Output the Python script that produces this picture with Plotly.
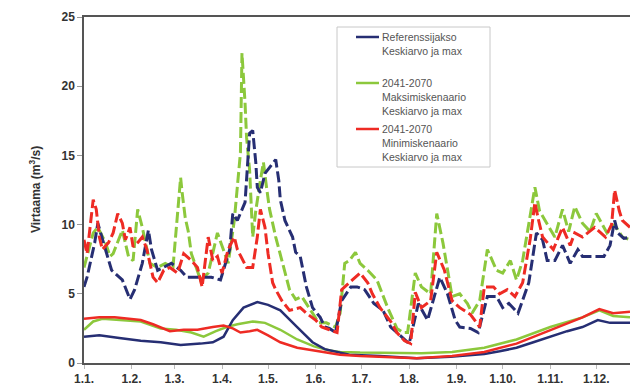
import plotly.graph_objects as go

# ---------------- data (day of year from 1.1.) ----------------
month_days = [0, 31, 59, 90, 120, 151, 181, 212, 243, 273, 304, 334]
month_labels = ["1.1.", "1.2.", "1.3.", "1.4.", "1.5.", "1.6.", "1.7.", "1.8.", "1.9.", "1.10.", "1.11.", "1.12."]

# Referenssijakso, mean
ref_mean_days = [0, 10, 23, 37, 50, 63, 76, 84, 91, 97, 104, 113, 120, 128, 139, 149, 157, 165, 173, 193,
                 217, 239, 261, 271, 282, 293, 304, 315, 325, 335, 343, 356]
ref_mean = [1.9, 2.0, 1.8, 1.6, 1.5, 1.3, 1.4, 1.5, 1.9, 3.1, 4.0, 4.4, 4.2, 3.8, 2.6, 1.5, 1.0, 0.8, 0.6, 0.5,
            0.35, 0.45, 0.65, 0.85, 1.1, 1.5, 1.9, 2.3, 2.6, 3.1, 2.9, 2.9]

# Referenssijakso, max
ref_max_days = [0, 2, 7, 9, 14, 18, 25, 30, 33, 38, 42, 44, 48, 52, 57, 63, 67, 74, 83, 89, 95, 97, 100, 105,
                108, 110, 112, 113, 115, 118, 125, 127, 128, 131, 136, 138, 141, 145, 149, 154, 157, 160, 164,
                168, 174, 178, 183, 189, 195, 200, 206, 209, 212, 218, 224, 232, 237, 242, 245, 252, 257, 263,
                269, 273, 277, 283, 286, 290, 295, 299, 302, 307, 312, 317, 322, 325, 331, 339, 343, 346, 348,
                352, 356]
ref_max = [5.5, 6.2, 8.7, 10.1, 8.2, 6.7, 6.0, 4.6, 5.3, 7.2, 9.6, 8.2, 6.7, 6.9, 7.2, 6.7, 6.2, 6.2, 6.2, 6.0,
           8.2, 10.8, 10.3, 11.6, 16.6, 16.8, 14.5, 12.7, 12.3, 13.7, 14.7, 13.2, 11.8, 10.3, 9.1, 8.0, 7.7,
           5.5, 4.0, 3.3, 2.6, 2.5, 2.2, 4.5, 5.5, 5.5, 5.3, 4.3, 3.8, 2.6, 2.0, 1.7, 1.4, 4.3, 3.1, 6.2, 5.0,
           3.1, 2.6, 2.5, 2.2, 4.8, 4.8, 4.0, 4.3, 3.6, 4.5, 5.8, 9.4, 8.9, 7.4, 7.4, 8.5, 7.2, 8.2, 7.7,
           7.7, 7.7, 8.5, 10.3, 9.4, 9.0, 9.1]

# 2041-2070 Maksimiskenaario, mean
maxs_mean_days = [0, 6, 12, 25, 37, 50, 60, 70, 78, 86, 93, 100, 110, 118, 128, 139, 150, 160, 167, 180, 200,
                  220, 240, 261, 282, 304, 325, 336, 345, 356]
maxs_mean = [2.4, 3.0, 3.2, 3.1, 3.0, 2.5, 2.4, 2.2, 1.9, 2.3, 2.6, 2.8, 3.0, 2.9, 2.4, 1.7, 1.2, 0.9, 0.8,
             0.75, 0.7, 0.7, 0.8, 1.1, 1.7, 2.6, 3.3, 3.8, 3.4, 3.3]

# 2041-2070 Maksimiskenaario, max
maxs_max_days = [0, 3, 6, 9, 14, 17, 19, 25, 29, 32, 35, 38, 40, 43, 48, 53, 58, 63, 64, 66, 68, 70, 76, 81,
                 87, 90, 94, 98, 102, 103, 104, 105, 106, 108, 110, 112, 115, 117, 119, 121, 125, 128, 131, 134,
                 138, 142, 149, 153, 158, 164, 167, 170, 173, 177, 180, 185, 191, 198, 204, 208, 211, 216, 220,
                 226, 230, 234, 240, 245, 250, 253, 258, 263, 269, 273, 278, 282, 286, 294, 297, 302, 307, 312,
                 316, 320, 325, 330, 334, 341, 346, 351, 356]
maxs_max = [6.9, 8.2, 9.4, 9.8, 8.7, 7.7, 7.9, 9.6, 7.7, 7.4, 11.1, 9.8, 8.7, 7.2, 6.9, 7.2, 6.9, 13.4, 12.3,
            10.5, 9.5, 7.9, 6.0, 6.5, 9.4, 8.4, 7.2, 10.3, 15.2, 22.4, 20.7, 18.8, 16.3, 13.9, 9.1, 11.0, 13.2,
            14.5, 12.7, 11.1, 9.1, 7.9, 6.5, 5.3, 4.6, 4.8, 3.6, 2.9, 2.9, 2.6, 3.6, 7.2, 7.4, 8.0, 7.2, 6.7,
            6.0, 4.0, 2.5, 2.2, 2.2, 6.5, 5.5, 5.0, 10.8, 8.7, 4.8, 5.0, 4.3, 3.6, 4.5, 8.2, 6.7, 6.5, 7.4,
            6.0, 7.4, 12.7, 11.0, 10.1, 9.1, 11.1, 9.5, 11.3, 10.1, 9.5, 10.8, 9.4, 10.0, 9.1, 8.9]

# 2041-2070 Minimiskenaario, mean
mins_mean_days = [0, 10, 20, 30, 37, 45, 56, 65, 74, 84, 91, 97, 102, 108, 113, 120, 128, 139, 150, 160, 167,
                  180, 200, 217, 240, 261, 282, 304, 325, 336, 345, 356]
mins_mean = [3.2, 3.3, 3.3, 3.2, 3.1, 2.8, 2.3, 2.4, 2.4, 2.6, 2.7, 2.5, 2.2, 2.3, 2.4, 2.0, 1.5, 1.1, 0.9,
             0.7, 0.6, 0.5, 0.4, 0.35, 0.5, 0.8, 1.4, 2.4, 3.3, 3.9, 3.6, 3.7]

# 2041-2070 Minimiskenaario, max
mins_max_days = [0, 2, 6, 8, 10, 12, 16, 19, 22, 25, 27, 30, 32, 35, 38, 41, 45, 48, 52, 56, 61, 65, 70, 74,
                 77, 79, 81, 84, 87, 90, 94, 98, 100, 106, 110, 113, 115, 118, 120, 123, 125, 129, 134, 141,
                 145, 151, 155, 160, 165, 168, 175, 180, 185, 188, 193, 200, 204, 209, 213, 216, 220, 226, 230,
                 235, 240, 245, 252, 258, 261, 267, 271, 276, 281, 286, 291, 294, 296, 299, 306, 312, 317, 320,
                 325, 333, 340, 344, 346, 349, 351, 356]
mins_max = [8.9, 7.9, 11.8, 11.1, 9.1, 8.2, 8.7, 9.4, 10.8, 10.1, 8.9, 9.8, 8.4, 8.7, 9.1, 8.2, 6.2, 5.8, 6.7,
            6.9, 6.5, 7.9, 7.4, 6.9, 5.5, 7.4, 9.1, 7.4, 7.7, 6.5, 8.2, 9.1, 8.2, 6.9, 6.9, 9.1, 11.1, 9.8,
            7.9, 5.8, 5.3, 4.5, 3.8, 4.0, 3.6, 3.1, 2.6, 2.4, 2.2, 5.3, 6.0, 6.5, 5.8, 5.0, 4.0, 3.0, 2.2, 1.6,
            1.4, 5.1, 4.0, 4.5, 8.0, 6.7, 4.5, 4.0, 3.5, 2.6, 5.5, 5.5, 5.0, 5.3, 4.8, 5.8, 9.0, 11.6, 10.5,
            9.1, 8.2, 9.8, 8.5, 9.4, 9.1, 9.8, 9.1, 10.0, 12.5, 11.0, 10.3, 9.8]

legend_names = [["Referenssijakso", "Keskiarvo ja max"],
                ["2041-2070", "Maksimiskenaario", "Keskiarvo ja max"],
                ["2041-2070", "Minimiskenaario", "Keskiarvo ja max"]]

BLUE = "#262e73"
GREEN = "#8cc83c"
RED = "#ee2b24"

fig = go.Figure()

dash = "11px,4px"
for d, v, c in [(maxs_max_days, maxs_max, GREEN), (ref_max_days, ref_max, BLUE), (mins_max_days, mins_max, RED)]:
    fig.add_trace(go.Scatter(x=d, y=v, mode="lines", line=dict(color=c, width=3, dash=dash),
                             showlegend=False, hoverinfo="skip"))
for d, v, c in [(maxs_mean_days, maxs_mean, GREEN), (ref_mean_days, ref_mean, BLUE), (mins_mean_days, mins_mean, RED)]:
    fig.add_trace(go.Scatter(x=d, y=v, mode="lines", line=dict(color=c, width=2.5),
                             showlegend=False, hoverinfo="skip"))

# Legend drawn manually
L, T, W, H = 84, 17, 546, 346
def px(xp):
    return (xp - L) / W
def py(yp):
    return (T + H - yp) / H

fig.add_shape(type="rect", xref="paper", yref="paper", x0=px(337), x1=px(490), y0=py(167), y1=py(27),
              line=dict(color="#c8c8c8", width=1), fillcolor="white", layer="above")
entry_y = [37, 83, 129]
for names, c, ey in zip(legend_names, [BLUE, GREEN, RED], entry_y):
    fig.add_shape(type="line", xref="paper", yref="paper", x0=px(356), x1=px(379), y0=py(ey), y1=py(ey),
                  line=dict(color=c, width=2.5), layer="above")
    for i, n in enumerate(names):
        fig.add_annotation(xref="paper", yref="paper", x=px(380), y=py(ey + i * 14), text=n,
                           showarrow=False, xanchor="left", yanchor="middle",
                           font=dict(family="Liberation Sans, Arial", size=10.5, color="#555"))

fig.add_annotation(xref="paper", yref="paper", x=px(35), y=py(190), text="<b>Virtaama (m<sup>3</sup>/s)</b>",
                   textangle=-90, showarrow=False, xanchor="center", yanchor="middle",
                   font=dict(family="Liberation Sans, Arial", size=12, color="#333"))

fig.update_layout(
    width=630, height=390,
    margin=dict(l=L, r=0, t=T, b=390 - T - H),
    paper_bgcolor="white", plot_bgcolor="white",
    xaxis=dict(range=[0, 356], tickvals=month_days, ticktext=["<b>%s</b>" % t for t in month_labels],
               showgrid=False, zeroline=False, showline=True, linecolor="#555", linewidth=1.5, mirror=True,
               ticks="outside", ticklen=4, tickcolor="#bbb",
               tickfont=dict(family="Liberation Sans, Arial", size=12, color="#333")),
    yaxis=dict(range=[0, 25], tickvals=[0, 5, 10, 15, 20, 25],
               ticktext=["<b>%d</b>" % v for v in [0, 5, 10, 15, 20, 25]],
               showgrid=False, zeroline=False, showline=True, linecolor="#555", linewidth=1.5,
               ticks="outside", ticklen=5, tickcolor="#999",
               tickfont=dict(family="Liberation Sans, Arial", size=12, color="#333")),
)

fig.write_html("out.html", config={"displayModeBar": False},
               post_script="document.body.style.margin='0';document.body.style.overflow='hidden';")
